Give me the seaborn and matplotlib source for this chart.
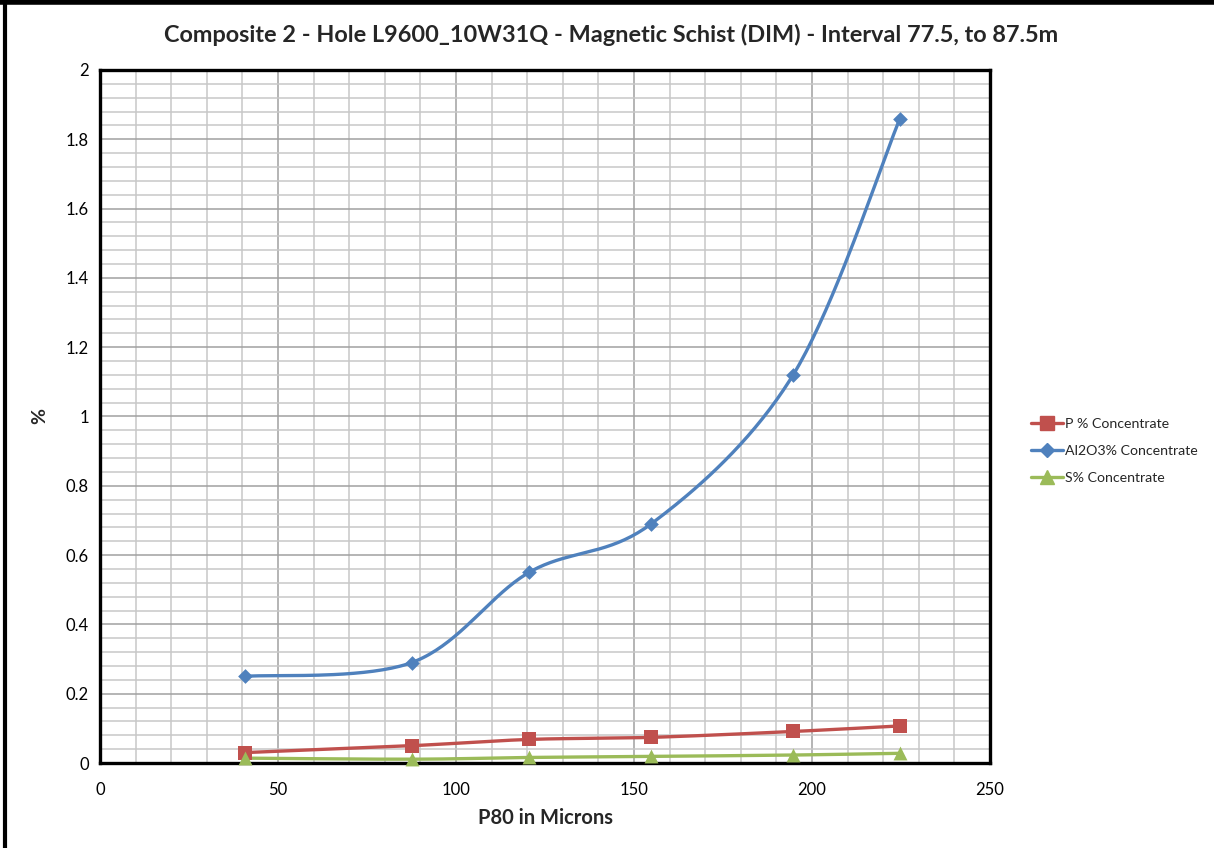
import numpy as np
import pandas as pd
import matplotlib
matplotlib.use("Agg")
import matplotlib.pyplot as plt
from matplotlib.lines import Line2D
from matplotlib.ticker import MultipleLocator
import seaborn as sns

# ---- data ----
p80 = [40.7, 87.6, 120.5, 154.8, 194.7, 224.7]
p_conc = [0.030, 0.050, 0.068, 0.074, 0.091, 0.107]
al2o3_conc = [0.25, 0.29, 0.55, 0.69, 1.12, 1.86]
s_conc = [0.014, 0.011, 0.016, 0.019, 0.023, 0.028]
series_names = ["P % Concentrate", "Al2O3% Concentrate", "S% Concentrate"]
title = "Composite 2 - Hole L9600_10W31Q - Magnetic Schist (DIM) - Interval 77.5, to 87.5m"
xlabel = "P80 in Microns"
ylabel = "%"

sns.set_theme(style="white")
plt.rcParams['font.family'] = ['Lato', 'DejaVu Sans']

colors = {"P % Concentrate": "#C0504D", "Al2O3% Concentrate": "#4F81BD", "S% Concentrate": "#9BBB59"}
markers = {"P % Concentrate": "s", "Al2O3% Concentrate": "D", "S% Concentrate": "^"}
msizes = {"P % Concentrate": 10, "Al2O3% Concentrate": 7.5, "S% Concentrate": 10}


def smooth(x, y, n=40):
    """Excel-style smoothed line: cubic Bezier through the points."""
    x = np.asarray(x, float); y = np.asarray(y, float)
    pts = np.column_stack([x, y])
    m = len(pts)
    out = []
    for i in range(m - 1):
        p0 = pts[i - 1] if i > 0 else pts[i]
        p1 = pts[i]
        p2 = pts[i + 1]
        p3 = pts[i + 2] if i + 2 < m else pts[i + 1]
        c1 = p1 + (p2 - p0) / 6.0
        c2 = p2 - (p3 - p1) / 6.0
        t = np.linspace(0, 1, n)[:, None]
        seg = ((1 - t) ** 3) * p1 + 3 * ((1 - t) ** 2) * t * c1 + 3 * (1 - t) * t ** 2 * c2 + t ** 3 * p2
        if i > 0:
            seg = seg[1:]
        out.append(seg)
    out = np.vstack(out)
    return out[:, 0], out[:, 1]


fig = plt.figure(figsize=(12.14, 8.48), dpi=100)
ax = fig.add_axes([100 / 1214, 1 - 763 / 848, 890 / 1214, 693 / 848])

for name, vals in zip(series_names, [p_conc, al2o3_conc, s_conc]):
    sx, sy = smooth(p80, vals)
    sdf = pd.DataFrame({"x": sx, "y": sy})
    sns.lineplot(data=sdf, x="x", y="y", sort=False, ax=ax, color=colors[name],
                 linewidth=2.4, zorder=3, legend=False)
    df = pd.DataFrame({"x": p80, "y": vals})
    sns.scatterplot(data=df, x="x", y="y", ax=ax, marker=markers[name], color=colors[name],
                    s=msizes[name] ** 2, edgecolor=colors[name], linewidth=0, zorder=4,
                    legend=False, clip_on=False)

ax.set_xlim(0, 250)
ax.set_ylim(0, 2)
ax.xaxis.set_major_locator(MultipleLocator(50))
ax.xaxis.set_minor_locator(MultipleLocator(10))
ax.yaxis.set_major_locator(MultipleLocator(0.2))
ax.yaxis.set_minor_locator(MultipleLocator(0.04))
ax.grid(which="major", color="#A0A0A0", linewidth=1.1, zorder=0)
ax.grid(which="minor", color="#C8C8C8", linewidth=1.1, zorder=0)
ax.set_axisbelow(True)
ax.yaxis.set_major_formatter(matplotlib.ticker.FuncFormatter(lambda v, p: f"{v:g}"))
ax.tick_params(axis="both", which="both", length=0, labelsize=12, colors="black")
ax.tick_params(axis="x", pad=14)
ax.tick_params(axis="y", pad=8)
for sp in ax.spines.values():
    sp.set_color("black")
    sp.set_linewidth(2.4)
    sp.set_visible(True)

ax.set_xlabel("")
ax.set_ylabel("")
fig.text(546 / 1214, 1 - 818 / 848, xlabel, ha="center", va="center", fontsize=14.5, fontweight="bold")
fig.text(40 / 1214, 1 - 416 / 848, ylabel, ha="center", va="center", fontsize=14, fontweight="bold",
         rotation=90)
fig.text(611 / 1214, 1 - 35 / 848, title, ha="center", va="center", fontsize=16.9, fontweight="bold")

handles = [Line2D([0], [0], color=colors[n], marker=markers[n], markersize=msizes[n] * 0.95,
                  linewidth=2.4) for n in series_names]
fig.legend(handles, series_names, loc="center left", bbox_to_anchor=(1018 / 1214, 1 - 451 / 848),
           frameon=False, fontsize=10.2, handlelength=2.3, handletextpad=0.15, labelspacing=1.05)

# outer chart border (top and left edges visible)
fig.add_artist(Line2D([0, 1], [1 - 2 / 848, 1 - 2 / 848], transform=fig.transFigure, color="black", linewidth=4))
fig.add_artist(Line2D([5 / 1214, 5 / 1214], [0, 1], transform=fig.transFigure, color="black", linewidth=3))

fig.savefig("out.png", dpi=100, facecolor="white")
